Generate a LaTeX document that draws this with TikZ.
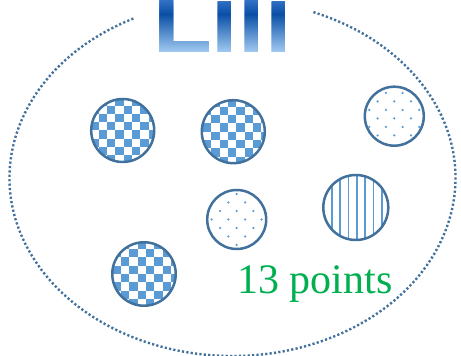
\documentclass[tikz,border=0pt]{standalone}
\usepackage{fontspec}
\setmainfont{Liberation Serif}
\newfontfamily\titlefont{Liberation Sans}[BoldFont={* Bold}]
\usetikzlibrary{calc}
\definecolor{edge}{HTML}{41719C}
\definecolor{fillb}{HTML}{5B9BD5}
\definecolor{grn}{HTML}{00B050}
\definecolor{gtop}{HTML}{3574C8}
\definecolor{gdark}{HTML}{0A4FA6}
\definecolor{glight}{HTML}{A2CAF2}
\tikzset{
  disc/.style={circle, draw=edge, line width=2.5pt, inner sep=0pt, minimum size=#1},
  checker/.style={path picture={
    \foreach \i in {-5,...,4}{\foreach \j in {-5,...,4}{
      \pgfmathtruncatemacro\s{mod(\i+\j+20,2)}
      \ifnum\s=0
        \fill[fillb] ($(path picture bounding box.center)+(\i*8.33pt+#1,\j*8.33pt)$) rectangle ++(8.33pt,8.33pt);
      \fi}}}},
  dotted fill/.style 2 args={path picture={
    \foreach \i in {-5,...,5}{\foreach \j in {-5,...,5}{
      \pgfmathtruncatemacro\s{mod(\i+\j+20,2)}
      \ifnum\s=#1
        \fill[fillb] ($(path picture bounding box.center)+(\i*8.33pt,\j*8.5pt+#2)$) circle[radius=1.25pt];
      \fi}}}},
  striped/.style={path picture={
    \foreach \i in {-5,...,5}{
      \draw[fillb, line width=1.8pt] ($(path picture bounding box.center)+(\i*8.33pt+1pt,-40pt)$) -- ++(0,80pt);}}},
  rim/.style={draw=edge, line width=2.4pt, dash pattern=on 2.2pt off 2.2pt},
  lbl/.style={text=grn, font=\fontsize{42}{42}\selectfont, inner sep=0pt, anchor=base west},
  ttl/.style={font=\titlefont\bfseries\fontsize{96}{96}\selectfont, inner sep=0pt, anchor=base west}
}
\begin{document}
\begin{tikzpicture}[x=1pt,y=1pt]
\useasboundingbox (0,0) rectangle (461,356);
% outer dotted ellipse with a gap at the top
\coordinate (ec) at (232.5,178);
\draw[rim] ($(ec)+(116.4:223 and 178)$) arc[start angle=116.4, end angle=429.3, x radius=223, y radius=178];
% title with a vertical gradient, built from thin clipped bands
\foreach \k in {0,...,55}{
  \ifnum\k<15
    \pgfmathsetmacro\p{100*\k/15}
    \colorlet{bandc}{gdark!\p!gtop}
  \else
    \pgfmathsetmacro\p{100*(\k-15)/38}
    \colorlet{bandc}{glight!\p!gdark}
  \fi
  \begin{scope}
    \clip (140,356-\k-1.2) rectangle (310,356-\k);
    \node[ttl, text=bandc] (title\k) at (153,303.6) {Lili};
  \end{scope}
}
% discs
\node[disc=63pt, checker=1pt] (c1) at (122.7,225.5) {};
\node[disc=63pt, checker=3pt] (c2) at (233.3,224.3) {};
\node[disc=59pt, dotted fill={0}{-2.2pt}] (c3) at (394.3,239.8) {};
\node[disc=59pt, dotted fill={1}{0pt}] (c4) at (236.7,136.5) {};
\node[disc=65pt, striped] (c5) at (355.8,148.5) {};
\node[disc=63.5pt, checker=2pt] (c6) at (144,82) {};
% label
\node[lbl] (lab) at (237,62.7) {13 points};
\end{tikzpicture}
\end{document}
